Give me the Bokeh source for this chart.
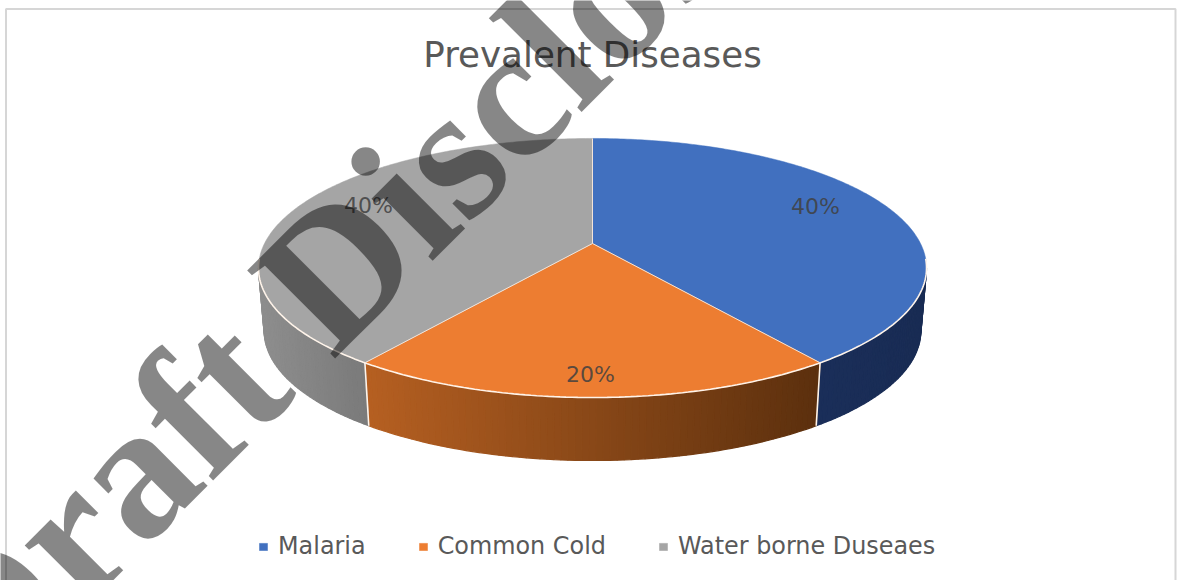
import numpy as np
from bokeh.plotting import figure
from bokeh.models import Range1d, Label, Legend, LegendItem
from bokeh.embed import file_html
from bokeh.resources import INLINE

title = "Prevalent Diseases"
watermark = "Draft Disclosure"
categories = ["Malaria", "Common Cold", "Water borne Duseaes"]
shares = [40, 20, 40]
top_colors = ["#4170BF", "#ED7D31", "#A5A5A5"]
side_left = [(27, 47, 90), (182, 96, 34), (142, 142, 142)]
side_right = [(25, 44, 84), (92, 48, 14), (122, 122, 122)]

W, H = 1180, 580
CX, CY = 592, 243          # apex of the top face
A, B, K = 328, 124.9, 0.189  # perspective projection of the disc
DEPTH, SHRINK = 63, 0.983
SILH = np.degrees(np.arccos(-K))  # where the side wall becomes visible
FONT = "DejaVu Sans"


def project(theta_deg):
    t = np.radians(np.asarray(theta_deg, dtype=float))
    w = 1 + K * np.cos(t)
    return A * np.sin(t) / w, B * np.cos(t) / w


def top_point(theta):
    dx, dy = project(theta)
    return CX + dx, CY - dy


def bottom_point(theta):
    dx, dy = project(theta)
    return CX + SHRINK * dx, CY - dy + DEPTH


p = figure(width=W, height=H, x_range=Range1d(0, W), y_range=Range1d(H, 0),
           output_backend="svg", toolbar_location=None, min_border=0,
           outline_line_color=None, background_fill_color="white")
p.styles = {"position": "absolute", "left": "0px", "top": "0px"}
p.xaxis.visible = False
p.yaxis.visible = False
p.grid.visible = False

# chart frame
p.line([5.5, 5.5, 1175, 1175], [H, 8.5, 8.5, H], line_color="#d6d6d6", line_width=2)

edges = np.cumsum([0] + shares) / sum(shares) * 360

# side walls, in narrow strips to give the horizontal gradient
for i in range(len(shares)):
    a, b = max(edges[i], SILH), min(edges[i + 1], 360 - SILH)
    if b <= a:
        continue
    th = np.linspace(a, b, max(int(b - a), 2))
    xt, yt = top_point(th)
    xb, yb = bottom_point(th)
    xs, ys, cs = [], [], []
    xmin, xmax = min(xt.min(), xb.min()), max(xt.max(), xb.max())
    for j in range(len(th) - 1):
        xs.append([xt[j], xt[j + 1], xb[j + 1], xb[j]])
        ys.append([yt[j], yt[j + 1], yb[j + 1], yb[j]])
        f = (0.5 * (xt[j] + xt[j + 1]) - xmin) / (xmax - xmin)
        c = [int(l + (r - l) * f) for l, r in zip(side_left[i], side_right[i])]
        cs.append("#%02x%02x%02x" % tuple(c))
    p.patches(xs, ys, fill_color=cs, line_color=cs, line_width=1.2)

# top faces
renderers = []
for i in range(len(shares)):
    th = np.linspace(edges[i], edges[i + 1], 200)
    xt, yt = top_point(th)
    r = p.patch(np.r_[CX, xt], np.r_[CY, yt], fill_color=top_colors[i],
                line_color=top_colors[i], line_width=0.5)
    renderers.append(r)

# pale separators
rim = np.linspace(SILH - 4, 360 - SILH + 4, 200)
xr, yr = top_point(rim)
p.line(xr, yr, line_color="#fff4ea", line_width=1.6)
for e in edges[:-1]:
    x1, y1 = top_point(e)
    p.line([CX, x1], [CY, y1], line_color="#f3e4d8", line_width=1.0)
    if SILH < e < 360 - SILH:
        x2, y2 = bottom_point(e)
        p.line([x1, x2], [y1, y2], line_color="#fff4ea", line_width=1.6)

# data labels
label_x = [815, 590, 368]
label_y = [206, 374, 205]
for lx, ly, s in zip(label_x, label_y, shares):
    p.add_layout(Label(x=lx, y=ly, text=f"{s}%", text_font=FONT,
                       text_font_size="22px", text_color="#404040", text_alpha=0.85,
                       text_align="center", text_baseline="middle"))

# title
p.add_layout(Label(x=592, y=54, text=title, text_font=FONT, text_font_size="35.7px",
                   text_color="#595959", text_align="center", text_baseline="middle"))

# legend
leg = Legend(items=[LegendItem(label=c, renderers=[r]) for c, r in zip(categories, renderers)],
             orientation="horizontal", location=(258, 20), spacing=52, label_standoff=10,
             glyph_width=10, glyph_height=9, label_text_font=FONT,
             label_text_font_size="23.9px", label_text_color="#595959",
             background_fill_alpha=0, border_line_color=None, padding=0, margin=0)
p.add_layout(leg)

# watermark
p.add_layout(Label(x=-60, y=662, text=watermark, text_font="Liberation Serif",
                   text_font_style="bold", text_font_size="190px", text_color="#000000",
                   text_alpha=0.47, angle=45, angle_units="deg",
                   text_align="left", text_baseline="alphabetic"))

open("out.html", "w").write(file_html(p, INLINE))
